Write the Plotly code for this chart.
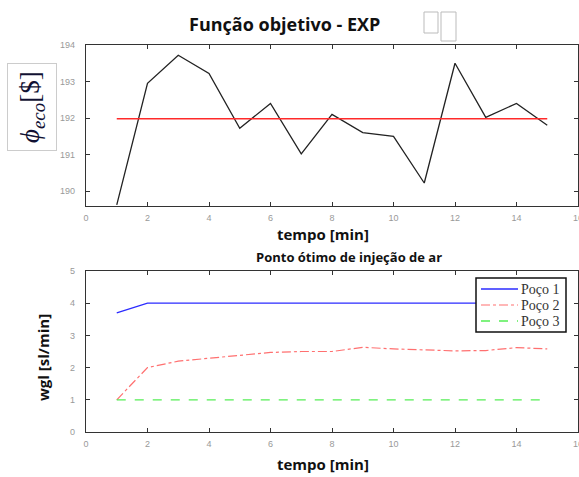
import plotly.graph_objects as go

t = list(range(1, 16))
phi_eco = [189.62, 192.95, 193.72, 193.22, 191.72, 192.40, 191.02, 192.10, 191.60, 191.50, 190.22, 193.50, 192.02, 192.40, 191.80]
phi_ref = [191.98] * 15
poco1 = [3.7, 4, 4, 4, 4, 4, 4, 4, 4, 4, 4, 4, 4, 4, 4]
poco2 = [1.0, 2.0, 2.2, 2.3, 2.38, 2.47, 2.5, 2.5, 2.63, 2.58, 2.55, 2.52, 2.53, 2.62, 2.58]
poco3 = [1] * 15
legend_names = ["Poço 1", "Poço 2", "Poço 3"]

W, H = 579, 477
def px(x):
    return x / W
def py(y):
    return 1 - y / H

styles = [dict(color="#2b2bff", width=1.3),
          dict(color="#ff7070", width=1.2, dash="dashdot"),
          dict(color="#55ee55", width=1.3, dash="dash")]

fig = go.Figure()
fig.add_trace(go.Scatter(x=t, y=phi_eco, mode="lines", line=dict(color="#222222", width=1.3),
                         showlegend=False, xaxis="x", yaxis="y"))
fig.add_trace(go.Scatter(x=t, y=phi_ref, mode="lines", line=dict(color="#ff2a2a", width=1.6),
                         showlegend=False, xaxis="x", yaxis="y"))
for name, ys, st in zip(legend_names, [poco1, poco2, poco3], styles):
    fig.add_trace(go.Scatter(x=t, y=ys, mode="lines", name=name, line=st,
                             showlegend=False, xaxis="x2", yaxis="y2"))

ax_common = dict(showline=True, linecolor="#333333", linewidth=1.2, mirror="ticks", ticks="inside",
                 ticklen=4, tickcolor="#333333", showgrid=False, zeroline=False,
                 ticklabeloverflow="allow", automargin=False,
                 tickfont=dict(family="Liberation Sans", size=9, color="#999999"))

xd = [px(86), px(578)]
fig.update_layout(
    width=W, height=H, margin=dict(l=0, r=0, t=0, b=0, autoexpand=False),
    paper_bgcolor="white", plot_bgcolor="white",
    xaxis=dict(domain=xd, range=[0, 16], tickvals=list(range(0, 17, 2)), anchor="y",
               ticklabelstandoff=3, **ax_common),
    yaxis=dict(domain=[py(206), py(45)], range=[189.59, 194], tickvals=[190, 191, 192, 193, 194],
               anchor="x", ticklabelstandoff=8, **ax_common),
    xaxis2=dict(domain=xd, range=[0, 16], tickvals=list(range(0, 17, 2)), anchor="y2",
                ticklabelstandoff=3, **ax_common),
    yaxis2=dict(domain=[py(432), py(271)], range=[0, 5], tickvals=[0, 1, 2, 3, 4, 5],
                anchor="x2", ticklabelstandoff=8, **ax_common),
    showlegend=False,
)

ann = [
    dict(x=px(284), y=py(24), text="<b>Função objetivo - EXP</b>",
         font=dict(family="Open Sans", size=18, color="#111111")),
    dict(x=px(323), y=py(234), text="<b>tempo [min]</b>",
         font=dict(family="Open Sans", size=15, color="#111111")),
    dict(x=px(349), y=py(257), text="<b>Ponto ótimo de injeção de ar</b>",
         font=dict(family="Open Sans", size=13, color="#111111")),
    dict(x=px(323), y=py(464), text="<b>tempo [min]</b>",
         font=dict(family="Open Sans", size=15, color="#111111")),
    dict(x=px(43), y=py(358), text="<b>wgl [sl/min]</b>", textangle=-90,
         font=dict(family="Open Sans", size=15, color="#111111")),
    dict(x=px(32), y=py(107), text="<i>ϕ</i><sub><i>eco</i></sub>[$]", textangle=-90,
         font=dict(family="Liberation Serif", size=27, color="#111133"),
         bordercolor="#cccccc", borderwidth=1, borderpad=7, bgcolor="white"),
]
for a in ann:
    a.update(xref="paper", yref="paper", showarrow=False, xanchor="center", yanchor="middle")
    fig.add_annotation(**a)

fig.add_shape(type="rect", xref="paper", yref="paper", x0=px(424), x1=px(438), y0=py(33), y1=py(12),
              line=dict(color="#bbbbbb", width=1))
fig.add_shape(type="rect", xref="paper", yref="paper", x0=px(441), x1=px(456), y0=py(41), y1=py(12),
              line=dict(color="#bbbbbb", width=1))

# legend box drawn manually
fig.add_shape(type="rect", xref="paper", yref="paper", x0=px(476), x1=px(566), y0=py(332), y1=py(278),
              line=dict(color="#111111", width=1.5), fillcolor="white", layer="above")
for i, (name, st) in enumerate(zip(legend_names, styles)):
    yy = 289 + 16 * i
    fig.add_shape(type="line", xref="paper", yref="paper", x0=px(481), x1=px(518), y0=py(yy), y1=py(yy),
                  line=st, layer="above")
    fig.add_annotation(x=px(519), y=py(yy), xref="paper", yref="paper", text=name, showarrow=False,
                       xanchor="left", yanchor="middle",
                       font=dict(family="Liberation Serif", size=14, color="#333333"))

fig.write_html("out.html")
